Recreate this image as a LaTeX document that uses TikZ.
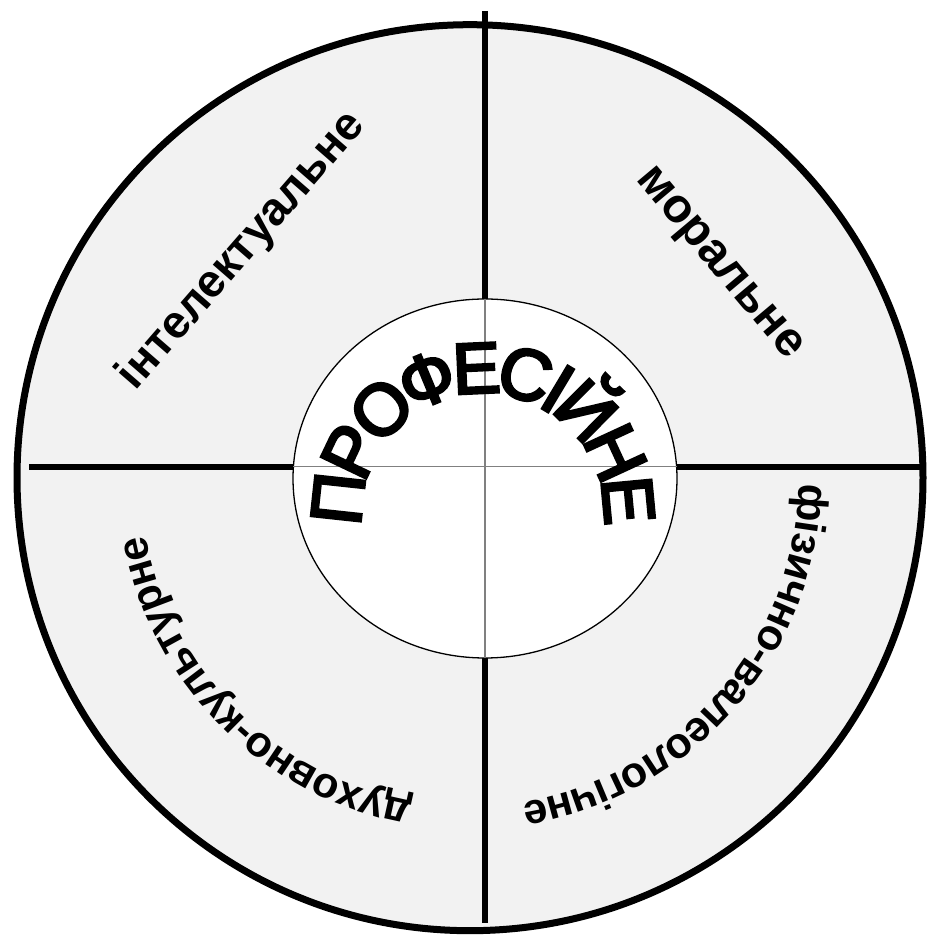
\documentclass[tikz,border=0pt]{standalone}
\usepackage{fontspec}
\setmainfont{Liberation Sans}
\newfontfamily\heavyfont{Liberation Sans}[FakeBold=4]
\usetikzlibrary{decorations.text,shapes.geometric}
\definecolor{ringGray}{HTML}{F2F2F2}
\definecolor{axisGray}{HTML}{808080}
\newcommand\sectorfont{\bfseries\fontsize{46}{50}\selectfont}
\newcommand\arcfont{\bfseries\fontsize{43}{47}\selectfont}
\newcommand\corefont{\heavyfont\fontsize{72}{76}\selectfont}
\tikzset{
  ring/.style={draw=black, fill=ringGray, line width=7pt},
  core/.style={draw=black, fill=white, line width=1.3pt},
  bigaxis/.style={draw=black, line width=6pt},
  smallaxis/.style={draw=axisGray, line width=1.2pt},
  sector/.style={inner sep=0pt, font=\sectorfont},
  arclabel/.style={decorate, decoration={text along path, text align=center, raise=-12pt}}
}

\begin{document}
\begin{tikzpicture}[x=1pt, y=1pt]
  \useasboundingbox (0,0) rectangle (928,935);
  \coordinate (mid) at (470,457.3);
  \coordinate (hub) at (485,456.5);
  \coordinate (arcmid) at (483,421);
  % outer ring and cross
  \draw[ring] (mid) circle[radius=453];
  \draw[bigaxis] (485,924) -- (485,12);
  \draw[bigaxis] (29,468.3) -- (922,468.3);
  % centre
  \draw[core] (hub) ellipse[x radius=192, y radius=179.5];
  \draw[smallaxis] (485,636) -- (485,277);
  \draw[smallaxis] (293.4,468.3) -- (676.6,468.3);
  % sector labels
  \node[sector, rotate=49] (intel) at (242,684) {інтелектуальне};
  \node[sector, rotate=-50, font=\bfseries\fontsize{48}{52}\selectfont] (moral) at (717.5,670) {моральне};
  \path[arclabel, decoration={text={|\arcfont|фізично-валеологічне}}]
    ([shift={(mid)}]9:341) arc[start angle=9, end angle=-91, radius=341];
  \path[arclabel, decoration={text={|\arcfont|духовно-культурне}}]
    ([shift={(mid)}]-85:341) arc[start angle=-85, end angle=-185, radius=341];
  \path[decorate, decoration={text along path, text align=center, raise=-26pt, text={|\corefont|ПРОФЕСІЙНЕ}}]
    ([shift={(arcmid)}]200:147) arc[start angle=200, end angle=-20, radius=147];
\end{tikzpicture}
\end{document}
